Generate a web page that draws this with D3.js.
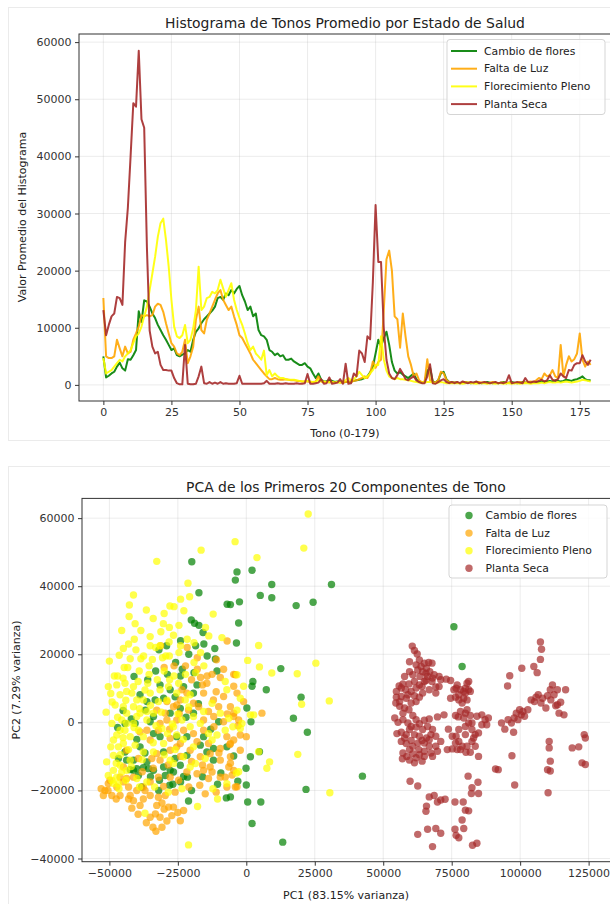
<!DOCTYPE html>
<html>
<head>
<meta charset="utf-8">
<script src="https://cdn.jsdelivr.net/npm/d3@7"></script>
<style>
body { margin: 0; background: #fff; }
text { font-family: "DejaVu Sans", sans-serif; }
</style>
</head>
<body>
<svg id="chart" width="610" height="904"></svg>
<script>
// ---------------- data ----------------
var estados = ["Cambio de flores", "Falta de Luz", "Florecimiento Pleno", "Planta Seca"];
var colores = ["green", "orange", "yellow", "brown"];

// average hue histogram, one value per hue 0..179
var histCambio = [
  5000,1300,1600,2000,2300,3200,3900,2900,2500,4500,
  4400,5200,6100,12900,11000,14800,14600,13700,12500,11700,
  10500,9600,8700,7900,7000,6100,6400,5200,5000,5300,
  5500,6100,5800,7900,9300,9900,10800,11500,12000,12500,
  13000,13700,15200,15400,14900,16000,15700,16600,16000,16800,
  17300,15700,14600,13100,13700,12000,12500,9600,8700,8500,
  7900,6100,5800,5200,5500,5000,5200,4400,4400,4600,
  4100,3800,3500,3500,3800,3200,2900,2000,1200,2000,
  900,600,600,900,700,500,600,500,400,500,
  500,600,700,800,900,1000,1200,1500,2200,3200,
  5500,7900,6700,8200,9300,7000,4000,2500,2000,2200,
  1800,1500,1200,1600,2000,1000,500,400,500,2500,
  3000,600,400,800,2000,2300,1000,500,400,400,
  400,300,400,500,400,300,400,500,400,300,
  400,500,400,300,400,300,400,500,300,400,
  500,400,300,400,500,400,400,500,400,500,
  500,600,500,600,700,600,800,700,600,700,
  900,800,700,900,1000,1200,1500,1000,800,800
];
var histFalta = [
  15200,5000,4700,4700,5000,7900,6400,5000,6700,5500,
  5800,7900,9000,10200,12200,12000,12200,12000,12200,13700,
  14200,14000,12800,10800,9000,7300,6700,5500,5200,5800,
  7900,3800,5000,6700,11400,13700,9600,9000,11400,12500,
  13700,14900,16000,16600,14900,14000,13100,13700,12000,10500,
  8700,8200,7300,6400,5500,4400,3800,3200,2600,2000,
  1500,1000,1000,1200,1000,900,900,1000,900,800,
  800,700,700,600,600,600,500,500,600,1500,
  600,500,500,400,500,400,500,400,400,500,
  600,500,700,800,1000,1200,1500,1200,2000,4100,
  3000,4000,4400,13000,22000,23500,20000,12000,11500,6500,
  12500,8500,5000,3500,1500,2000,800,500,500,4500,
  800,500,400,800,2300,2000,900,500,400,400,
  400,300,400,500,400,400,300,400,500,400,
  400,300,400,500,400,300,400,400,300,400,
  400,300,400,500,400,400,500,600,500,800,
  1200,1000,2000,1500,1700,2600,1500,1200,7000,1500,
  3500,5000,4100,4500,5500,9000,4400,3200,4100,3500
];
var histFlorecimiento = [
  4700,2000,2300,2600,3200,3800,4400,4100,5000,5500,
  6100,7300,8500,9000,10200,12000,13700,16600,19500,22400,
  25900,28300,29100,25400,20700,14900,10200,8500,8200,8700,
  10500,7300,7900,9900,13100,20700,13100,13700,15200,15400,
  16300,16000,16600,18400,16900,15400,16600,17800,14900,13100,
  11700,10500,9000,7300,6100,6700,5500,5000,4400,6000,
  1700,2600,1500,2000,1500,1200,1200,1000,900,900,
  900,800,700,600,600,700,600,500,500,900,
  600,600,500,500,500,400,500,400,600,800,
  1200,800,1000,1500,2300,1700,1200,1500,2000,2600,
  3500,3500,8500,4500,2500,1500,1200,1000,1200,1000,
  1000,900,800,700,600,500,400,400,400,500,
  500,400,300,400,500,400,300,300,300,300,
  300,300,200,300,400,300,300,200,300,300,
  300,200,300,300,200,300,300,200,300,300,
  200,300,300,200,300,300,300,200,300,300,
  300,400,300,400,500,400,400,500,400,500,
  600,500,400,500,600,700,900,800,700,600
];
var histSeca = [
  13100,8700,10500,12000,12500,15400,15200,14000,25000,31000,
  40000,49300,48700,58500,46500,45000,24000,9500,6700,5500,
  5800,3500,2600,2600,2500,2500,1200,300,100,100,
  7000,200,100,100,200,1500,3200,300,200,500,
  200,400,200,500,200,300,200,200,200,300,
  1600,200,200,200,200,200,200,200,200,300,
  700,200,200,200,300,200,200,300,200,200,
  200,300,200,200,300,1900,200,200,300,400,
  1000,200,300,1300,200,300,400,1000,200,3700,
  200,300,2000,1500,6000,5500,4000,8500,8000,18000,
  31500,21500,21500,10000,4400,2000,1200,1000,1700,2800,
  2000,1000,800,1200,1500,800,500,300,300,1500,
  3600,300,200,500,800,1000,500,300,500,300,
  500,300,600,400,300,500,400,600,300,400,
  500,400,300,400,500,300,400,300,500,1700,
  300,400,500,400,300,1200,500,400,600,500,
  700,900,600,800,1700,900,700,1000,2000,1500,
  1200,2600,2500,3500,3800,3800,5200,4100,3500,4400
];

var histTicksX = [0, 25, 50, 75, 100, 125, 150, 175];
var histTicksY = [0, 10000, 20000, 30000, 40000, 50000, 60000];

// PCA points [PC1, PC2]
var pcaCambio = [
  [-3400,44200],[-4000,41800],[2100,44700],[9300,40500],[31100,40500],[5100,37300],[9300,36600],[-2500,35400],
  [-5800,34600],[18200,34300],[24400,35300],[-2800,29200],[-3600,23300],[12600,15800],[2400,12000],[2100,10600],
  [7300,9600],[20000,7400],[17200,1200],[22300,-2900],[200,4200],[1700,200],[4800,-8600],[1500,-10100],
  [-4600,-9900],[-100,-13500],[0,-18400],[-3100,-17300],[500,-23400],[5300,-23400],[2100,-29700],[13300,-35200],
  [42400,-15800],[21800,-19700],[-5800,-21900],[75800,28100],[78800,16400],
  [-19900,47200],[-17300,38100],[-7000,34700],[-20100,30100],[-18900,29100],[-17300,28500],[-15800,26400],
  [-15500,23000],[-11500,21700],[-11300,18600],[-10700,15100],[-31900,21300],[-29100,22500],[-25800,17600],
  [-23400,15600],[-33100,15100],[-28800,14100],[-24000,13600],[-19100,14600],[-14300,19500],
  [-7300,-22200],[-21100,-23100],[-26800,-18200],[-31700,-17000],[-10500,-18200],[-21500,-16100],[-26600,-14600],
  [-22900,-15900],[-41200,-14100],[-42400,-13900],[-37600,-13300],[-33900,-14100],[-9300,-14900],
  [-38800,8100],[-36300,6100],[-33300,6600],[-30200,7100],[-27800,9600],[-22900,10500],[-19300,8600],[-18000,11000],
  [-33900,1700],[-33900,-3300],[-31500,-4200],[-38800,-7200],[-41200,-11100],[-43700,-11100],[-40000,-13600],
  [-35700,-13600],[-30200,-8700],[-26000,-10600],[-24100,-12600],[-21700,-9700],[-16800,-6700],[-14400,-8700],
  [-12000,-11100],[-19300,2700],[-24100,4100],[-27800,2700],[-44300,-8700],[-46700,-10600],[-30200,-13100],
  [-10100,200],[-7100,-7200],[-36900,3600],[-40600,-300],[-44300,-300],[-35100,200],[-25400,-4200],[-21700,-4200],
  [-15600,-4200],[-12000,-7700],[-27800,-14100],[-29600,-15600],[-36300,-11600],[-39400,-15600],[-38200,-19000],
  [-47000,-1500],[-45000,3500],[-42000,1000],[-40000,-5000],[-37000,-9000],[-35000,-16000],[-32000,-20000],
  [-28000,-18500],[-24000,-17500],[-20000,-20000],[-16000,-16000],[-13000,-2000],[-17500,5500],[-22000,1500],
  [-26000,7500],[-31500,11000],[-36000,12500],[-41000,13500],[-24000,24000],[-21000,20000],[-18500,22500]
];
var pcaFalta = [
  [5700,2700],[-4000,14000],[-4600,10600],[-3400,8600],[-1000,6100],[-4600,2700],[-2800,700],[0,-4200],
  [-5800,-6200],[-5800,-12000],[-3400,-18900],[-5200,-15500],
  [-31300,22500],[-7000,23900],[-10900,18400],[-21600,22000],[-17900,19000],[-8300,15600],[-4600,14100],
  [-22200,16600],[-14300,13600],[-26400,16600],[-30000,16100],[-17900,15600],[-12500,14100],[-9500,13200],[-16700,13200],
  [-51600,-20000],[-50400,-18000],[-52200,-21500],[-49100,-21500],[-49800,-17000],[-47300,-19000],[-46100,-21500],
  [-44900,-17500],[-43000,-19000],[-42400,-21500],[-40000,-20000],[-37000,-20000],[-35100,-21500],[-37600,-22500],
  [-41200,-23000],[-38800,-24400],[-32700,-24400],[-30800,-23700],[-28400,-24900],[-26600,-24900],[-41800,-25200],
  [-33200,-26900],[-31500,-27900],[-35100,-27900],[-34100,-30800],[-30800,-30800],[-27200,-27400],[-24100,-28900],
  [-37600,-19000],[-30200,-18800],[-46100,-16100],[-43700,-16500],[-35100,-17500],
  [-29000,6100],[-26600,4600],[-24100,6600],[-21700,8600],[-19300,5600],[-15600,8600],[-14400,11500],[-12000,6600],
  [-8300,7600],[-5800,4600],[-4600,1700],[-8300,200],[-11800,-1300],[-15600,-2300],[-19300,-3300],[-22900,-2300],
  [-25400,700],[-29000,700],[-32700,3600],[-31500,-300],[-27800,-4700],[-24100,-6200],[-20500,-8200],[-16800,-10100],
  [-13200,-9200],[-9500,-7700],[-7100,-4200],[-4600,-5200],[-2200,-3700],[-9500,-11100],[-6400,-13100],[-13200,-13100],
  [-15600,-14100],[-13800,-16500],[-7100,-19000],[-4000,-19000],[-9500,-16100],[-35100,-5200],[-36300,-2300],
  [-32700,-9200],[-31500,-11100],[-27800,-8200],[-25400,-7200],
  [-38800,-2800],[-43700,-8200],[-41200,-16100],[-44900,-13100],[-39400,-10600],[-34500,-10600],[-32100,-2300],
  [-29600,2700],[-25400,5100],[-23500,9600],[-21100,3600],[-17400,4600],[-13800,3200],[-10100,4600],[-11900,1700],
  [-15600,700],[-18000,-5700],[-13800,-6200],[-5800,-10100],[-2200,-8200],[-7700,-16100],[-4600,-14100],
  [-12500,-14600],[-18000,-15100],[-21700,-14600],[-24700,-17000],[-27800,-16100],[-32100,-16100],[-29600,-21500],
  [-32100,-22000],[-22900,-25900],
  [-26000,-20500],[-21000,-19000],[-17000,-18500],[-15000,-21000],[-11000,-20500],[-28500,-12500],[-24000,-10000],
  [-20000,-11500],[-16000,-12500],[-10000,-9000],[-6000,-6500],[-3000,-1000],[-7000,2500],[-11000,9000],
  [-16000,11000],[-20000,12500],[-24500,2500],[-28000,-2000],[-34000,-13500],[-38000,-14500],[-43000,-22500],
  [-39500,-27000],[-36500,-29500],[-30000,-25500],[-47500,-22500],[-50500,-20000],[-53000,-19500],[-33000,-32000],
  [-29000,-29000],[-25000,-26500]
];
var pcaFlorecimiento = [
  [22600,61200],[-4100,53100],[21000,51200],[3900,48400],[4500,22600],[500,18200],[4800,16300],[9300,14500],
  [18600,14300],[25400,17400],[30300,6300],[20200,5300],[2700,2200],[4500,-8600],[8500,-11600],[7500,-13500],
  [18800,-9400],[30500,-20700],[-2800,-14500],[-1000,10600],[-3400,14000],
  [-16500,50600],[-32700,47300],[-21300,40900],[-20700,36900],[-41200,37400],[-42700,34500],[-42800,31100],
  [-40600,29000],[-12100,31800],[-27900,34200],[-26400,34000],[-24000,36200],[-22800,32800],[-30300,29000],
  [-28100,27900],[-35100,25200],[-40900,24400],[-44900,21700],[-46400,19700],[-40300,21300],[-42400,18700],
  [-37500,19500],[-33100,22000],[-31200,26600],[-26600,25600],[-24600,28500],[-14900,27900],[-8900,24900],
  [-19100,23400],[-21600,24400],[-24000,22500],[-28200,23600],[-31500,22500],[-35100,22500],[-38500,18700],
  [-43300,16100],[-47000,13600],[-35500,16600],[-30600,19000],[-28100,19500],[-19100,17600],[-15500,16600],[-13700,25400],
  [-48200,13600],[-44600,16100],[-39100,15100],[-35500,14100],[-30000,15100],[-26400,13600],[-22200,14100],
  [-18500,14600],[-16700,20500],[-24600,20500],[-29400,19500],[-34300,18500],
  [-21100,-36000],[-17800,-24700],[-10500,-22500],[-37000,-26700],[-12200,-19500],[-7100,-18000],[-3600,-14900],
  [-51200,3000],[-50400,10500],
  [-47300,11000],[-46100,8100],[-43700,9100],[-41200,10500],[-47900,5100],[-44900,4600],[-41200,4600],[-37600,6600],
  [-35100,8600],[-31500,9600],[-28400,10500],[-25400,8600],[-22300,6600],[-33900,2700],[-36300,700],[-40000,1700],
  [-43700,-300],[-46100,-2300],[-48500,-5200],[-46700,-7200],[-48500,-9700],[-44900,-6200],[-42400,-4200],
  [-39400,-2300],[-37600,-4200],[-30800,-1800],[-28800,-3300],[-26600,-1300],[-23500,700],[-19300,1700],[-16800,-300],
  [-13800,-3300],[-10700,-3700],[-7700,-2300],[-4900,-1300],[-2200,-1800],[1500,2200],[-19300,-7200],[-22900,-10100],
  [-20500,-13100],[-27800,-11100],[-33900,-8700],[-37600,-8700],[-42400,-11100],[-46100,-12600],[-48500,-14100],
  [-47300,-16100],[-48500,-18000],[-45500,-14600],[-7700,12000],[-12500,5600],[-9500,2700],[-3400,3600],
  [-49100,-300],[-47300,-3700],[-49500,-7200],[-45500,700],[-43700,2700],[-40000,6600],[-41800,8600],[-44300,11500],
  [-38800,2700],[-36300,3200],[-32100,6100],[-24700,11500],[-20500,8100],[-15600,3200],[-20500,-1300],[-25400,-3700],
  [-30200,-6200],[-41200,-300],[-44300,-2300],[-40600,-6700],[-51000,-11600],[-49100,-17000],[-46700,-18000],
  [-50400,-15600],[-43700,-14100],[-40000,-16500],[-36300,-17500],[-26600,-12100],[-18600,-12100],[-15000,-10600],
  [-12500,-5200],[-6400,1200],[-1600,-300],[-2200,7100],[-7100,9600],
  [-49000,6000],[-47000,1500],[-45000,-4500],[-43000,-8000],[-41000,-1500],[-39000,4000],[-37000,9500],[-35000,5000],
  [-33000,-1000],[-31000,3000],[-29000,6500],[-27000,-500],[-25000,2500],[-23000,-5000],[-21000,4500],[-44000,6500],
  [-46000,-9500],[-42000,-13000],[-38000,-11000],[-34000,-6000],[-30000,-9500],[-26000,-8000],[-49500,8500],
  [-47500,-12000],[-45000,13000],[-39500,12000],[-36000,11500],[-32500,12500],[-28000,12500],[-43000,23000],
  [-38500,27000],[-34000,30500],[-30000,32000],[-36500,33000],[-45500,27000],[-50000,18000],[-46500,-19500],
  [-44000,-17000],[-39000,-19000],[-33500,-19000],[-28500,-20500],[-23500,-19500]
];
var pcaSeca = [
  [60600,22400],[61400,21100],[62400,20100],[63200,18300],[59600,17800],[65000,17400],[66600,17600],[67800,17400],
  [65800,15900],[64400,14900],[62600,15400],[60800,14000],[63400,13500],[65600,14400],[67000,14900],[68600,14000],
  [70400,13500],[71000,12500],[69200,10400],[67800,12000],[65000,12000],[63200,11000],[61400,12000],[59400,11300],
  [57200,11300],[55800,10700],[58200,9600],[60200,9100],[62000,10100],[64200,10500],[65600,12300],
  [54800,7400],[56600,7600],[58400,7100],[54600,5700],[56000,4700],[57800,4200],[60200,5700],[61400,7800],
  [63200,7400],[59400,3700],[57200,2700],[60800,2000],[54200,1300],[55400,0],[56600,-2900],[55000,-3300],
  [58400,-3600],[59600,-2100],[62000,-1400],[63200,-400],[65000,600],[66800,1000],[66200,-1200],[64400,-2100],
  [61400,-3600],[60200,-5300],[57800,-4600],[58400,-6200],[60800,-7000],[62600,-6100],[64200,-5300],[65800,-4600],
  [67400,-3600],[68000,-2100],[69200,-7000],[66800,-7000],[65000,-8500],[63000,-8000],[60800,-9200],[58600,-10000],
  [57000,-10700],[59600,-11100],[62000,-10400],[64200,-11400],[65000,-10000],[67400,-9000],[69800,-8500],
  [73800,-2000],[69800,1600],[72200,2200],[73400,-8000],[75200,-7800],[76600,-4100],[77600,-5600],[78800,-7000],
  [80200,-8800],[77000,-8000],[80000,-3600],[82400,-5600],[83600,-7000],[84800,-10000],[81200,-200],[82400,-2100],
  [83600,-3600],[79400,1300],[77400,1600],[80600,3700],[81800,2000],[84200,1800],[86000,2200],[87200,800],
  [88400,1300],[87800,-700],[86000,-700],[80000,2700],
  [74600,12300],[73000,12700],[76600,10000],[78200,9600],[80000,10000],[81200,9600],[77600,8100],[79400,7100],
  [80600,6600],[78800,5700],[76400,7400],[74600,7100],[81200,12000],[81800,9100],
  [93200,-200],[94400,-2000],[95600,800],[97800,1300],[98600,2700],[99800,3700],[101000,3200],[101600,1800],
  [102800,3700],[97600,-2900],[104000,6600],[105200,6100],[106600,8100],[108200,7100],[110000,7800],[111200,6600],
  [111800,11000],[113600,9600],[116600,9600],[114800,5900],[113000,4900],[114200,2700],[116000,2200],[109400,4200],
  [107400,18500],[107800,21500],[107400,23600],[105000,16400],[106200,14600],[100600,15900],[96200,13700],[95400,10700],
  [110600,-5600],[110600,-7500],[111000,-11400],[110000,-13900],[111000,-14300],[110200,-20700],[119000,-7500],
  [121400,-7200],[123400,-3600],[123800,-4600],[122600,-11900],[123800,-12400],[97000,-9800],[98000,-18400],
  [91000,-13700],[92000,-13900],
  [59800,-17300],[62600,-18700],[66800,-21900],[68600,-21500],[65800,-24600],[65600,-26100],[69800,-23400],
  [71000,-22800],[72600,-22600],[76200,-23400],[79200,-23400],[80000,-25800],[81200,-26000],[81000,-15800],
  [84600,-17600],[84800,-20900],[82200,-20900],[82400,-19200],[78800,-28700],[79400,-31200],[76200,-31400],
  [76600,-33200],[77600,-33900],[69200,-31200],[66200,-31400],[62600,-32900],[71000,-32600],[68000,-36500],
  [82600,-36100],[84200,-35500],
  [62000,16900],[63800,16400],[66200,13500],[68000,13000],[59600,14900],[57800,13500],[56600,10100],[54800,9100],
  [56000,6100],[59000,8100],[62000,6100],[64400,8600],[66800,9600],[69200,8600],[70400,10500],[57200,800],
  [59000,-200],[62000,800],[60200,-1200],[56600,-5600],[63200,-4100],[65000,-6100],[66800,-5100],[69200,-4100],
  [71000,-5600],[68000,-10000],[63200,-9500],[59600,-8000],[57200,-9000],[61400,-11900],[75200,-4100],[76400,-6100],
  [78200,-8000],[80600,-7000],[81800,-8800],[83000,-4600],[84800,-3100],[82400,-200],[80000,-1200],[77600,-2100],
  [78200,3200],[76400,2000],[79400,9100],[77000,11000],[80000,8600],[80600,11500],[77600,6600],[75800,9600],
  [100400,2200],[99200,800],[96800,-200],[105800,7400],[107600,5700],[112400,8100],[113600,5200],[111000,9600]
];

var pcaTicksX = [-50000, -25000, 0, 25000, 50000, 75000, 100000, 125000];
var pcaTicksY = [-40000, -20000, 0, 20000, 40000, 60000];

// ---------------- drawing ----------------
var svg = d3.select("#chart");
var fmt = d3.format("d");

// faint frames of the two screenshot panels
svg.append("rect").attr("x", 8.5).attr("y", 7.5).attr("width", 620).attr("height", 433)
    .attr("fill", "none").attr("stroke", "#ebebeb");
svg.append("rect").attr("x", 8.5).attr("y", 466.5).attr("width", 620).attr("height", 460)
    .attr("fill", "none").attr("stroke", "#ebebeb");

// grid lines for one panel
function drawFrame(x, y, box, ticksX, ticksY) {
    var g = svg.append("g");
    g.selectAll(".gx").data(ticksX).enter().append("line")
        .attr("x1", function(d) { return x(d); }).attr("x2", function(d) { return x(d); })
        .attr("y1", box.top).attr("y2", box.bottom)
        .attr("stroke", "#b0b0b0").attr("stroke-opacity", 0.3).attr("stroke-width", 0.8);
    g.selectAll(".gy").data(ticksY).enter().append("line")
        .attr("y1", function(d) { return y(d); }).attr("y2", function(d) { return y(d); })
        .attr("x1", box.left).attr("x2", box.right)
        .attr("stroke", "#b0b0b0").attr("stroke-opacity", 0.3).attr("stroke-width", 0.8);
}
// spines + axes
function drawAxes(x, y, box, ticksX, ticksY) {
    svg.append("rect").attr("x", box.left).attr("y", box.top)
        .attr("width", box.right - box.left).attr("height", box.bottom - box.top)
        .attr("fill", "none").attr("stroke", "#333").attr("stroke-width", 1);
    var ax = svg.append("g").attr("transform", "translate(0," + box.bottom + ")")
        .call(d3.axisBottom(x).tickValues(ticksX).tickFormat(fmt).tickSize(4).tickPadding(3.5));
    var ay = svg.append("g").attr("transform", "translate(" + box.left + ",0)")
        .call(d3.axisLeft(y).tickValues(ticksY).tickFormat(fmt).tickSize(4).tickPadding(3.5));
    [ax, ay].forEach(function(a) {
        a.select(".domain").remove();
        a.selectAll(".tick line").attr("stroke", "#333");
        a.selectAll(".tick text").attr("fill", "#333")
            .style("font-family", "DejaVu Sans").style("font-size", "11px");
    });
}
function label(txt, xx, yy, size, rotate) {
    var t = svg.append("text").text(txt).attr("text-anchor", "middle")
        .attr("fill", "#222").style("font-size", size + "px");
    if (rotate) t.attr("transform", "translate(" + xx + "," + yy + ") rotate(-90)");
    else t.attr("x", xx).attr("y", yy);
}

// ---- top: histogram lines
var box1 = {left: 79, right: 615, top: 34, bottom: 401};
var allHist = histCambio.concat(histFalta, histFlorecimiento, histSeca);
var yMin = d3.min(allHist), yMax = d3.max(allHist), yPad = (yMax - yMin) * 0.05;
var x1 = d3.scaleLinear().domain([-179 * 0.05, 179 * 1.05]).range([box1.left, box1.right]);
var y1 = d3.scaleLinear().domain([yMin - yPad, yMax + yPad]).range([box1.bottom, box1.top]);

drawFrame(x1, y1, box1, histTicksX, histTicksY);

var line = d3.line()
    .x(function(d, i) { return x1(i); })
    .y(function(d) { return y1(d); });

var hists = [histCambio, histFalta, histFlorecimiento, histSeca];
svg.append("g").selectAll("path").data(hists).enter().append("path")
    .attr("d", line)
    .attr("fill", "none")
    .attr("stroke", function(d, i) { return colores[i]; })
    .attr("stroke-opacity", 0.9)
    .attr("stroke-width", 2)
    .attr("stroke-linejoin", "round");

drawAxes(x1, y1, box1, histTicksX, histTicksY);
label("Histograma de Tonos Promedio por Estado de Salud", 345, 28, 13.9);
label("Tono (0-179)", 345, 437, 11);
label("Valor Promedio del Histograma", 26, 217, 11, true);

// legend
var leg1 = svg.append("g");
leg1.append("rect").attr("x", 447).attr("y", 39.5).attr("width", 158).attr("height", 75).attr("rx", 3)
    .attr("fill", "#fff").attr("fill-opacity", 0.8).attr("stroke", "#d5d5d5");
estados.forEach(function(s, i) {
    var yy = 51 + i * 17.7;
    leg1.append("line").attr("x1", 451).attr("x2", 477).attr("y1", yy).attr("y2", yy)
        .attr("stroke", colores[i]).attr("stroke-opacity", 0.9).attr("stroke-width", 2);
    leg1.append("text").attr("x", 484).attr("y", yy).attr("dy", "0.35em").text(s)
        .attr("fill", "#222").style("font-size", "10.8px");
});

// ---- bottom: PCA scatter
var box2 = {left: 82, right: 616, top: 498.4, bottom: 861.7};
var x2 = d3.scaleLinear().domain([-60000, 135000]).range([box2.left, box2.right]);
var y2 = d3.scaleLinear().domain([-40940, 65800]).range([box2.bottom, box2.top]);

drawFrame(x2, y2, box2, pcaTicksX, pcaTicksY);

var grupos = [pcaCambio, pcaFalta, pcaFlorecimiento, pcaSeca];
svg.append("g").selectAll("g").data(grupos).enter().append("g")
    .attr("fill", function(d, i) { return colores[i]; })
    .attr("fill-opacity", 0.7)
    .selectAll("circle")
    .data(function(d) { return d; })
    .enter().append("circle")
        .attr("cx", function(d) { return x2(d[0]); })
        .attr("cy", function(d) { return y2(d[1]); })
        .attr("r", 3.7);

drawAxes(x2, y2, box2, pcaTicksX, pcaTicksY);
label("PCA de los Primeros 20 Componentes de Tono", 346, 492, 13.9);
label("PC1 (83.15% varianza)", 346, 899, 11);
label("PC2 (7.29% varianza)", 20, 680, 11, true);

var leg2 = svg.append("g");
leg2.append("rect").attr("x", 449).attr("y", 505).attr("width", 158).attr("height", 73).attr("rx", 3)
    .attr("fill", "#fff").attr("fill-opacity", 0.8).attr("stroke", "#d5d5d5");
estados.forEach(function(s, i) {
    var yy = 515.5 + i * 17.6;
    leg2.append("circle").attr("cx", 469).attr("cy", yy).attr("r", 3.7)
        .attr("fill", colores[i]).attr("fill-opacity", 0.7);
    leg2.append("text").attr("x", 485.5).attr("y", yy).attr("dy", "0.35em").text(s)
        .attr("fill", "#222").style("font-size", "10.8px");
});
</script>
</body>
</html>
